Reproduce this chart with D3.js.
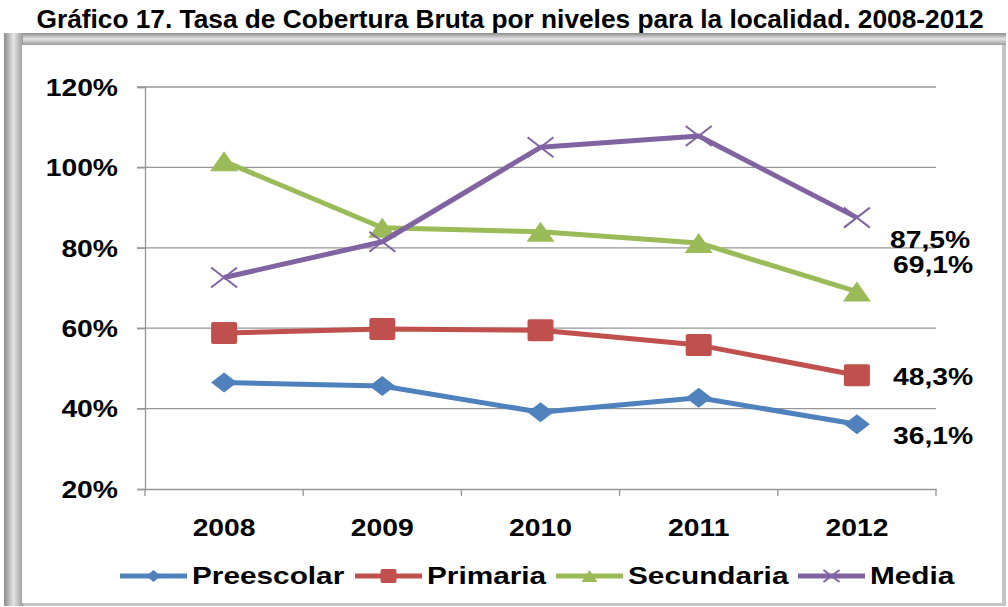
<!DOCTYPE html>
<html>
<head>
<meta charset="utf-8">
<script src="https://cdn.jsdelivr.net/npm/d3@7"></script>
<style>
  html, body { margin: 0; padding: 0; background: #fff; }
  svg { display: block; }
</style>
</head>
<body>
<div id="chart"></div>
<script>
const years = ["2008", "2009", "2010", "2011", "2012"];
const preescolar = [46.5, 45.6, 39.1, 42.7, 36.1];
const primaria = [58.8, 59.8, 59.5, 55.8, 48.3];
const secundaria = [101.5, 85.0, 84.0, 81.2, 69.1];
const media = [72.6, 81.5, 105.0, 107.8, 87.5];
const yTicks = [20, 40, 60, 80, 100, 120];
const endLabels = ["36,1%", "48,3%", "69,1%", "87,5%"];

const width = 1008, height = 607;
const stretch = 1.23; // the chart text looks horizontally stretched

const series = [
    { name: "Preescolar", values: preescolar, color: "#4F81BD", marker: "diamond" },
    { name: "Primaria", values: primaria, color: "#C0504D", marker: "square" },
    { name: "Secundaria", values: secundaria, color: "#9BBB59", marker: "triangle" },
    { name: "Media", values: media, color: "#8064A2", marker: "cross" }
];

const svg = d3.select("#chart").append("svg")
    .attr("width", width)
    .attr("height", height)
    .attr("viewBox", [0, 0, width, height]);

const defs = svg.append("defs");
const bevel = defs.append("linearGradient").attr("id", "bevel-top")
    .attr("x1", 0).attr("x2", 0).attr("y1", 0).attr("y2", 1);
bevel.append("stop").attr("offset", 0).attr("stop-color", "#8c8c8c");
bevel.append("stop").attr("offset", 0.5).attr("stop-color", "#e4e4e4");
bevel.append("stop").attr("offset", 1).attr("stop-color", "#9a9a9a");
const bevelL = defs.append("linearGradient").attr("id", "bevel-left")
    .attr("x1", 0).attr("x2", 1).attr("y1", 0).attr("y2", 0);
bevelL.append("stop").attr("offset", 0).attr("stop-color", "#8c8c8c");
bevelL.append("stop").attr("offset", 0.5).attr("stop-color", "#e4e4e4");
bevelL.append("stop").attr("offset", 1).attr("stop-color", "#9a9a9a");

// Title
svg.append("text")
    .attr("x", 510).attr("y", 28)
    .attr("text-anchor", "middle")
    .attr("font-family", "'Liberation Sans', Arial, sans-serif")
    .attr("font-weight", "bold")
    .attr("font-size", 26)
    .attr("textLength", 947)
    .attr("lengthAdjust", "spacingAndGlyphs")
    .text("Gráfico 17. Tasa de Cobertura Bruta por niveles para la localidad. 2008-2012");

// Frame
const frame = svg.append("g").attr("class", "frame");
frame.append("rect").attr("x", 4).attr("y", 33).attr("width", 1002).attr("height", 573)
    .attr("fill", "#c4c4c4");
frame.append("rect").attr("x", 4).attr("y", 33).attr("width", 1002).attr("height", 12)
    .attr("fill", "url(#bevel-top)");
frame.append("rect").attr("x", 4).attr("y", 33).attr("width", 19).attr("height", 573)
    .attr("fill", "url(#bevel-left)");
frame.append("rect").attr("x", 22).attr("y", 45).attr("width", 980).attr("height", 558)
    .attr("fill", "#fff");

const plot = { left: 145, right: 936, top: 87, bottom: 489 };

const x = d3.scaleBand().domain(years).range([plot.left, plot.right]);
const y = d3.scaleLinear().domain([20, 120]).range([plot.bottom, plot.top]);
const cx = d => x(d) + x.bandwidth() / 2;

function stretchText(sel, k = stretch) {
    sel.each(function () {
        const w = this.getComputedTextLength();
        d3.select(this).attr("textLength", w * k).attr("lengthAdjust", "spacingAndGlyphs");
    });
}

const font = "'Liberation Sans', Arial, sans-serif";

// Grid
const grid = svg.append("g").attr("class", "grid");
grid.selectAll("line").data(yTicks.slice(1)).join("line")
    .attr("x1", plot.left - 8).attr("x2", plot.right)
    .attr("y1", d => y(d)).attr("y2", d => y(d))
    .attr("stroke", "#969696").attr("stroke-width", 1.3);

// Axes
const yAxis = svg.append("g")
    .attr("transform", `translate(${plot.left},0)`)
    .call(d3.axisLeft(y).tickValues(yTicks).tickSize(8).tickPadding(19).tickFormat(d => d + "%"));
const xAxis = svg.append("g")
    .attr("transform", `translate(0,${plot.bottom})`)
    .call(d3.axisBottom(x).tickSize(0).tickPadding(30));

[yAxis, xAxis].forEach(a => {
    a.select(".domain").attr("stroke", "#969696").attr("stroke-width", 1.3);
    a.selectAll(".tick line").attr("stroke", "#969696").attr("stroke-width", 1.3);
    a.selectAll("text").attr("font-family", font).attr("font-weight", "bold")
        .attr("font-size", 23).attr("fill", "#000");
});
yAxis.selectAll(".tick text").attr("dy", "0.36em").call(stretchText);
xAxis.selectAll(".tick text").attr("dy", "0.72em").call(stretchText);

// Category boundary ticks on x axis
xAxis.selectAll(".bound").data(years.concat([null])).join("line")
    .attr("class", "bound")
    .attr("x1", (d, i) => plot.left + i * x.bandwidth())
    .attr("x2", (d, i) => plot.left + i * x.bandwidth())
    .attr("y1", 0).attr("y2", 7)
    .attr("stroke", "#969696").attr("stroke-width", 1.3);

// Markers
function drawMarker(g, type, color, sx, sy) {
    if (type === "diamond") {
        g.append("path").attr("d", `M${-sx},0L0,${-sy}L${sx},0L0,${sy}Z`).attr("fill", color);
    } else if (type === "square") {
        g.append("rect").attr("x", -sx).attr("y", -sy).attr("width", 2 * sx).attr("height", 2 * sy)
            .attr("rx", 2).attr("fill", color);
    } else if (type === "triangle") {
        g.append("path").attr("d", `M0,${-sy}L${sx},${sy}L${-sx},${sy}Z`).attr("fill", color);
    } else {
        g.append("path").attr("d", `M${-sx},${-sy}L${sx},${sy}M${-sx},${sy}L${sx},${-sy}`)
            .attr("stroke", color).attr("stroke-width", 2).attr("fill", "none");
    }
}

const line = d3.line().x((d, i) => cx(years[i])).y(d => y(d));
const markerSize = { diamond: [13, 10], square: [13, 11], triangle: [14, 10], cross: [13, 10] };

const data = svg.append("g").attr("class", "series");
series.forEach(s => {
    const g = data.append("g");
    g.append("path").datum(s.values)
        .attr("d", line)
        .attr("fill", "none")
        .attr("stroke", s.color)
        .attr("stroke-width", 5)
        .attr("stroke-linejoin", "round");
    g.selectAll("g.pt").data(s.values).join("g")
        .attr("class", "pt")
        .attr("transform", (d, i) => `translate(${cx(years[i])},${y(d)})`)
        .each(function () {
            const [sx, sy] = markerSize[s.marker];
            drawMarker(d3.select(this), s.marker, s.color, sx, sy);
        });
});

// End value labels
const labelPos = [
    { text: endLabels[3], x: 890, y: 248 },
    { text: endLabels[2], x: 893, y: 273 },
    { text: endLabels[1], x: 893, y: 385 },
    { text: endLabels[0], x: 893, y: 444 }
];
svg.append("g").selectAll("text").data(labelPos).join("text")
    .attr("x", d => d.x).attr("y", d => d.y)
    .attr("font-family", font).attr("font-weight", "bold").attr("font-size", 23)
    .text(d => d.text)
    .call(stretchText);

// Legend
const legend = svg.append("g").attr("class", "legend");
const legendX = [120, 355, 556, 798];
series.forEach((s, i) => {
    const g = legend.append("g").attr("transform", `translate(${legendX[i]},576)`);
    g.append("line").attr("x1", 0).attr("x2", 67).attr("y1", 0).attr("y2", 0)
        .attr("stroke", s.color).attr("stroke-width", 5);
    const m = g.append("g").attr("transform", "translate(33.5,0)");
    const sz = { diamond: [7, 6], square: [8, 7], triangle: [8, 6], cross: [8, 6] }[s.marker];
    drawMarker(m, s.marker, s.color, sz[0], sz[1]);
    g.append("text").attr("x", 72).attr("y", 8)
        .attr("font-family", font).attr("font-weight", "bold").attr("font-size", 24)
        .text(s.name)
        .call(stretchText, 1.24);
});
</script>
</body>
</html>
